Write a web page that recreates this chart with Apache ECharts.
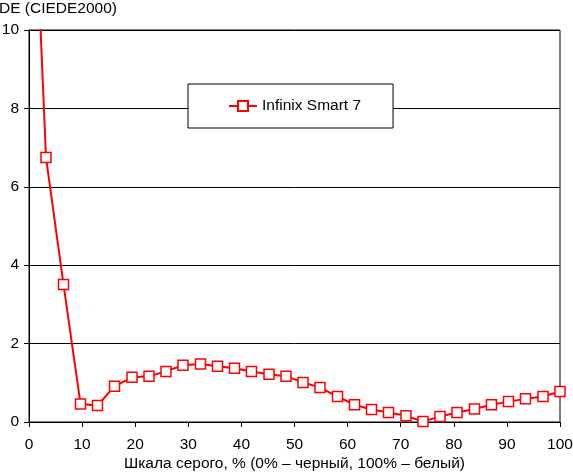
<!DOCTYPE html>
<html>
<head>
<meta charset="utf-8">
<script src="https://cdn.jsdelivr.net/npm/echarts@6/dist/echarts.min.js"></script>
<style>html,body{margin:0;padding:0;background:#fff}#c{width:573px;height:472px}</style>
</head>
<body>
<div id="c"></div>
<script>
const grayLevels = [0, 3.2, 6.5, 9.7, 12.9, 16.1, 19.4, 22.6, 25.8, 29.0, 32.3, 35.5, 38.7, 41.9, 45.2, 48.4, 51.6, 54.8, 58.1, 61.3, 64.5, 67.7, 71.0, 74.2, 77.4, 80.6, 83.9, 87.1, 90.3, 93.5, 96.8, 100];
const deValues = [17, 6.75, 3.51, 0.46, 0.42, 0.91, 1.14, 1.17, 1.29, 1.45, 1.48, 1.42, 1.37, 1.29, 1.22, 1.17, 1.01, 0.88, 0.65, 0.44, 0.32, 0.24, 0.16, 0.01, 0.14, 0.24, 0.33, 0.44, 0.52, 0.59, 0.65, 0.78];
const seriesName = 'Infinix Smart 7';
const yTitle = 'DE (CIEDE2000)';
const xTitle = 'Шкала серого, % (0% – черный, 100% – белый)';

const font = '"Liberation Sans", Arial, sans-serif';
const fs = 15.5;
const chart = echarts.init(document.getElementById('c'), null, {renderer: 'canvas'});
chart.setOption({
  animation: false,
  backgroundColor: '#fff',
  textStyle: {fontFamily: font, color: '#000'},
  title: {
    text: yTitle, left: -1, top: 1, padding: 0,
    textStyle: {fontFamily: font, fontSize: fs, fontWeight: 'normal', color: '#000'}
  },
  grid: {left: 29, top: 30, right: 13, bottom: 50, outerBoundsMode: 'none', containLabel: false,
         show: true, borderColor: '#000', borderWidth: 1, backgroundColor: 'transparent'},
  legend: {
    left: 188, top: 84,
    padding: [14, 32, 14, 40],
    backgroundColor: '#fff', borderColor: '#000', borderWidth: 1,
    itemWidth: 28, itemHeight: 12.5,
    textStyle: {fontFamily: font, fontSize: fs, color: '#000'},
    data: [seriesName]
  },
  xAxis: {
    type: 'value', min: 0, max: 100, interval: 10,
    name: xTitle, nameLocation: 'middle', nameGap: 34, nameMoveOverlap: false,
    nameTextStyle: {fontFamily: font, fontSize: fs, color: '#000'},
    axisLine: {show: true, lineStyle: {color: '#000', width: 1}},
    axisTick: {show: true, inside: false, length: 5, lineStyle: {color: '#000'}},
    axisLabel: {fontFamily: font, fontSize: fs, color: '#000', margin: 15},
    splitLine: {show: false}
  },
  yAxis: {
    type: 'value', min: 0, max: 10, interval: 2,
    axisLine: {show: true, lineStyle: {color: '#000', width: 1}},
    axisTick: {show: true, inside: false, length: 5, lineStyle: {color: '#000'}},
    axisLabel: {fontFamily: font, fontSize: fs, color: '#000', margin: 10},
    splitLine: {show: true, lineStyle: {color: '#000', width: 1}}
  },
  series: [{
    name: seriesName,
    type: 'line',
    clip: true,
    data: grayLevels.map((x, i) => [x, deValues[i]]),
    symbol: 'rect', symbolSize: 10,
    showAllSymbol: true,
    lineStyle: {color: '#ff0000', width: 2},
    itemStyle: {color: '#fff', borderColor: '#ff0000', borderWidth: 1.5},
    emphasis: {disabled: true}
  }]
});
</script>
</body>
</html>
